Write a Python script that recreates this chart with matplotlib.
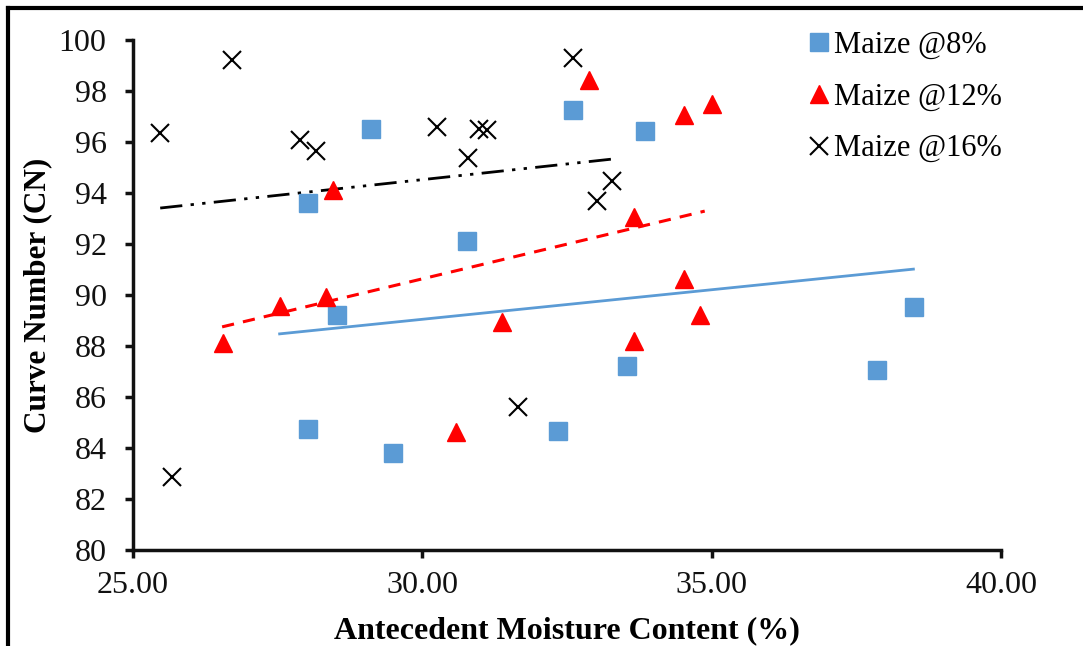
import matplotlib
matplotlib.use("Agg")
import matplotlib.pyplot as plt
from matplotlib.lines import Line2D

# ---- data ----
m8_x = [28.02, 29.11, 28.53, 28.02, 29.49, 30.77, 32.60, 33.85, 32.34, 33.54, 37.86, 38.50]
m8_y = [93.61, 96.51, 89.22, 84.75, 83.80, 92.12, 97.25, 96.43, 84.67, 87.22, 87.06, 89.53]

m12_x = [26.56, 27.54, 28.34, 28.46, 30.58, 31.38, 32.88, 33.66, 33.66, 34.52, 35.01, 34.52, 34.80]
m12_y = [88.12, 89.57, 89.92, 94.12, 84.63, 88.94, 98.43, 93.06, 88.20, 97.06, 97.49, 90.63, 89.22]

m16_x = [25.47, 25.67, 26.71, 27.89, 28.16, 30.25, 30.79, 30.98, 31.12, 31.65, 32.60, 33.02, 33.28]
m16_y = [96.35, 82.86, 99.22, 96.08, 95.65, 96.59, 95.37, 96.51, 96.47, 85.61, 99.29, 93.69, 94.47]

# trendline end points (x, y)
trend8_x = [27.51, 38.51]
trend8_y = [88.47, 91.02]
trend12_x = [26.54, 34.88]
trend12_y = [88.75, 93.29]
trend16_x = [25.47, 33.28]
trend16_y = [93.41, 95.33]

x_ticks = [25, 30, 35, 40]
x_tick_labels = ["25.00", "30.00", "35.00", "40.00"]
y_ticks = [80, 82, 84, 86, 88, 90, 92, 94, 96, 98, 100]
labels = ["Maize @8%", "Maize @12%", "Maize @16%"]

# ---- styling ----
plt.rcParams['font.family'] = ['Liberation Serif', 'DejaVu Serif']
BLUE = "#5B9BD5"
RED = "#FF0000"

fig = plt.figure(figsize=(10.83, 6.46), dpi=100)
ax = fig.add_axes([133/1083, 1-550/646, (1001-133)/1083, (550-40)/646])

ax.plot(trend8_x, trend8_y, color=BLUE, lw=2.0, solid_capstyle='butt')
ax.plot(trend12_x, trend12_y, color=RED, lw=2.2, dashes=(4, 3))
ax.plot(trend16_x, trend16_y, color='black', lw=2.0, dashes=(8, 3, 1.2, 3, 1.2, 3))

ax.plot(m8_x, m8_y, ls='none', marker='s', ms=13, color=BLUE, mec=BLUE, label=labels[0])
ax.plot(m12_x, m12_y, ls='none', marker='^', ms=12.5, color=RED, mec=RED, label=labels[1])
ax.plot(m16_x, m16_y, ls='none', marker='x', ms=13, color='black', mew=1.5, label=labels[2])

ax.set_xlim(25, 40)
ax.set_ylim(80, 100)
ax.set_xticks(x_ticks)
ax.set_xticklabels(x_tick_labels)
ax.set_yticks(y_ticks)

for s in ['top', 'right']:
    ax.spines[s].set_visible(False)
for s in ['left', 'bottom']:
    ax.spines[s].set_linewidth(2.5)
    ax.spines[s].set_color('#111111')

ax.tick_params(axis='both', direction='out', length=6, width=2.5, colors='#111111',
               labelsize=23, labelcolor='#111111')
ax.tick_params(axis='x', pad=9)
ax.tick_params(axis='y', pad=13)

ax.set_xlabel("Antecedent Moisture Content (%)", fontsize=23, fontweight='bold', labelpad=12)
ax.set_ylabel("Curve Number (CN)", fontsize=22.5, fontweight='bold')
ax.yaxis.set_label_coords((52-133)/868, 0.5)

leg = ax.legend(loc='upper left', bbox_to_anchor=(790/1083, 1-9/646), bbox_transform=fig.transFigure,
                frameon=False, fontsize=22, handlelength=0.5, handletextpad=0.25,
                labelspacing=0.75, borderpad=0.2)

# outer frame lines (left and top) as in the reference
fig.add_artist(Line2D([8/1083, 8/1083], [0, 1-8/646], transform=fig.transFigure, color='black', lw=3))
fig.add_artist(Line2D([8/1083, 1], [1-8/646, 1-8/646], transform=fig.transFigure, color='black', lw=3))

fig.savefig("out.png", dpi=100)
